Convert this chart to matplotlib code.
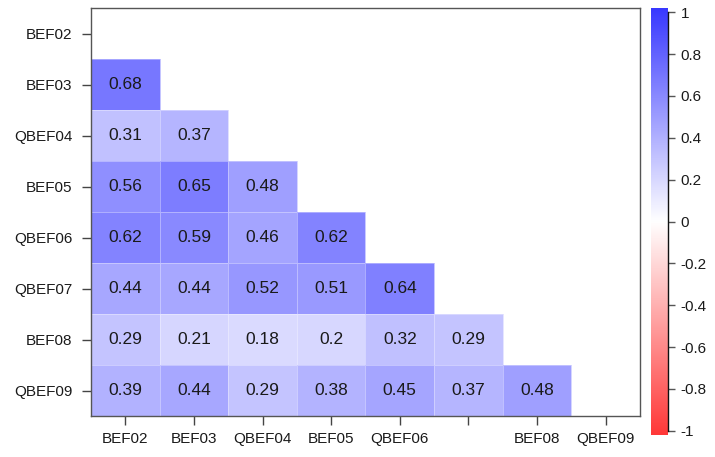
import numpy as np
import matplotlib
matplotlib.use("Agg")
import matplotlib.pyplot as plt
from matplotlib.colors import LinearSegmentedColormap

plt.rcParams['font.family'] = ['Liberation Sans', 'DejaVu Sans']

# Variable names (rows top to bottom, columns left to right)
row_labels = ["BEF02", "BEF03", "QBEF04", "BEF05", "QBEF06", "QBEF07", "BEF08", "QBEF09"]
col_labels = ["BEF02", "BEF03", "QBEF04", "BEF05", "QBEF06", "", "BEF08", "QBEF09"]

# Lower-triangle correlations, one list per row
r_BEF03 = [0.68]
r_QBEF04 = [0.31, 0.37]
r_BEF05 = [0.56, 0.65, 0.48]
r_QBEF06 = [0.62, 0.59, 0.46, 0.62]
r_QBEF07 = [0.44, 0.44, 0.52, 0.51, 0.64]
r_BEF08 = [0.29, 0.21, 0.18, 0.2, 0.32, 0.29]
r_QBEF09 = [0.39, 0.44, 0.29, 0.38, 0.45, 0.37, 0.48]
lower_rows = [[], r_BEF03, r_QBEF04, r_BEF05, r_QBEF06, r_QBEF07, r_BEF08, r_QBEF09]

cbar_ticks = [1, 0.8, 0.6, 0.4, 0.2, 0, -0.2, -0.4, -0.6, -0.8, -1]

n = len(row_labels)
mat = np.full((n, n), np.nan)
for i, vals in enumerate(lower_rows):
    for j, v in enumerate(vals):
        mat[i, j] = v

cmap = LinearSegmentedColormap.from_list(
    "rwb", [(1.0, 0.22, 0.22), (1.0, 1.0, 1.0), (0.22, 0.22, 1.0)], N=256)

W, H = 715, 457
fig = plt.figure(figsize=(W / 100, H / 100), dpi=100)

ax = fig.add_axes([91 / W, (H - 416) / H, (640 - 91) / W, (416 - 8) / H])
masked = np.ma.masked_invalid(mat)
ax.pcolormesh(np.arange(n + 1) - 0.5, np.arange(n + 1) - 0.5, masked,
              cmap=cmap, vmin=-1, vmax=1,
              edgecolors=(1, 1, 1, 0.35), linewidth=0.6)
ax.set_xlim(-0.5, n - 0.5)
ax.set_ylim(n - 0.5, -0.5)

for i in range(n):
    for j in range(n):
        if not np.isnan(mat[i, j]):
            ax.text(j, i, f"{mat[i, j]:g}", ha="center", va="center",
                    fontsize=12.5, color="#1a1a1a")

ax.set_xticks(range(n))
ax.set_xticklabels(col_labels, fontsize=11, color="#1a1a1a")
ax.set_yticks(range(n))
ax.set_yticklabels(row_labels, fontsize=11, color="#1a1a1a")
ax.tick_params(axis="both", length=6.5, width=1, color="#444444")
ax.tick_params(axis="x", pad=5)
ax.tick_params(axis="y", pad=7)
for s in ax.spines.values():
    s.set_color("#555555")
    s.set_linewidth(1.0)

# Colour legend
cax = fig.add_axes([651 / W, (H - 435) / H, 17 / W, (435 - 8) / H])
grad = np.linspace(-1, 1, 256).reshape(-1, 1)
ext = 0.02
cax.imshow(grad, cmap=cmap, vmin=-1, vmax=1, origin="lower", aspect="auto",
           extent=[0, 1, -1 - ext, 1 + ext])
cax.set_xlim(0, 1)
cax.set_ylim(-1 - ext, 1 + ext)
cax.set_xticks([])
for side in ["left", "top", "bottom"]:
    cax.spines[side].set_visible(False)
cax.spines["right"].set_bounds(-1, 1)
cax.spines["right"].set_color("#111111")
cax.spines["right"].set_linewidth(1.0)
cax.yaxis.tick_right()
cax.set_yticks(cbar_ticks)
cax.set_yticklabels([f"{t:g}" for t in cbar_ticks], fontsize=11, color="#1a1a1a")
cax.tick_params(axis="y", length=5, width=1, color="#555555", pad=4)

fig.savefig("out.png", dpi=100)
